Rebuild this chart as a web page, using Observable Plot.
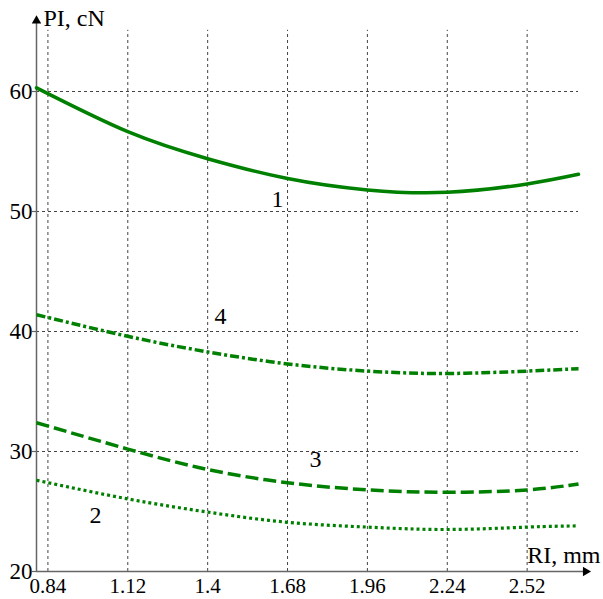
<!DOCTYPE html>
<html><head><meta charset="utf-8">
<script src="https://cdn.jsdelivr.net/npm/d3@7"></script>
<script src="https://cdn.jsdelivr.net/npm/@observablehq/plot@0.6"></script>
<style>
body{margin:0;background:#fff}
</style>
</head><body><div id="chart"></div>
<script>
const xs = [0.8, 1.12, 1.4, 1.68, 1.96, 2.24, 2.52, 2.7];
const curve1 = [60.3, 56.65, 54.4, 52.75, 51.8, 51.6, 52.3, 53.1];
const curve4 = [41.4, 39.6, 38.3, 37.3, 36.7, 36.5, 36.7, 36.9];
const curve3 = [32.4, 30.2, 28.5, 27.4, 26.8, 26.6, 26.8, 27.3];
const curve2 = [27.6, 26.05, 24.95, 24.1, 23.7, 23.5, 23.7, 23.8];
const xTicks = [0.84, 1.12, 1.4, 1.68, 1.96, 2.24, 2.52];
const yTicks = [20, 30, 40, 50, 60];
const gridY = [30, 40, 50, 60];
const labels = [
  {t: "1", x: 1.645, y: 51.0},
  {t: "4", x: 1.445, y: 41.25},
  {t: "3", x: 1.778, y: 29.35},
  {t: "2", x: 1.007, y: 24.7}
];
const toPts = (ys) => xs.map((x, i) => ({x, y: ys[i]}));
const green = "#008000";
const serif = "'Liberation Serif', 'DejaVu Serif', 'Times New Roman', serif";

const chart = Plot.plot({
  width: 603, height: 599,
  marginLeft: 36, marginRight: 25, marginTop: 31, marginBottom: 28,
  style: {fontSize: "22px", background: "#fff", color: "#000", fontFamily: serif},
  x: {domain: [0.8, 2.7], axis: null},
  y: {domain: [20, 65], axis: null},
  marks: [
    Plot.ruleX(xTicks, {y1: 20, y2: 65.1, stroke: "#444", strokeDasharray: "3,3", strokeWidth: 1}),
    Plot.ruleY(gridY, {x1: 0.8, x2: 2.7, stroke: "#444", strokeDasharray: "3,3", strokeWidth: 1}),
    Plot.ruleY(yTicks, {x1: 0.786, x2: 0.8, stroke: "#666", strokeWidth: 1.2}),
    Plot.ruleX([0.8], {y1: 20, y2: 65.8, stroke: "#666", strokeWidth: 1.5}),
    Plot.ruleY([20], {x1: 0.8, x2: 2.72, stroke: "#666", strokeWidth: 1.5}),
    Plot.dot([{x: 0.8, y: 65.9}], {x: "x", y: "y", symbol: "triangle", r: 3.5, fill: "#000", stroke: "none"}),
    Plot.dot([{x: 2.725, y: 20}], {x: "x", y: "y", symbol: "triangle", r: 3.5, fill: "#000", stroke: "none", rotate: 90}),
    Plot.text(yTicks, {x: 0.8, y: d => d, dx: -4, textAnchor: "end", text: d => String(d), fontSize: 23, fill: "#000"}),
    Plot.text(xTicks, {x: d => d, y: 20, dy: 15, textAnchor: "middle", text: d => String(d), fontSize: 21, fill: "#000"}),
    Plot.line(toPts(curve1), {x: "x", y: "y", curve: "natural", stroke: green, strokeWidth: 3.5}),
    Plot.line(toPts(curve4), {x: "x", y: "y", curve: "natural", stroke: green, strokeWidth: 3.5, strokeDasharray: "9,3,3,3", strokeLinecap: "butt"}),
    Plot.line(toPts(curve3), {x: "x", y: "y", curve: "natural", stroke: green, strokeWidth: 3.5, strokeDasharray: "13,5", strokeLinecap: "butt"}),
    Plot.line(toPts(curve2), {x: "x", y: "y", curve: "natural", stroke: green, strokeWidth: 3.2, strokeDasharray: "3,3", strokeLinecap: "butt"}),
    Plot.text(labels, {x: "x", y: "y", text: "t", fontSize: 24, fill: "#000"}),
    Plot.text(["PI, cN"], {x: 0.8, y: 66.1, dx: 7, textAnchor: "start", fontSize: 24, fill: "#000"}),
    Plot.text(["RI, mm"], {x: 2.7, y: 21.35, dx: 22, textAnchor: "end", fontSize: 24, fill: "#000"})
  ]
});
d3.select(chart).selectAll("text").style("font-family", serif);
document.getElementById("chart").appendChild(chart);
</script>
</body></html>
